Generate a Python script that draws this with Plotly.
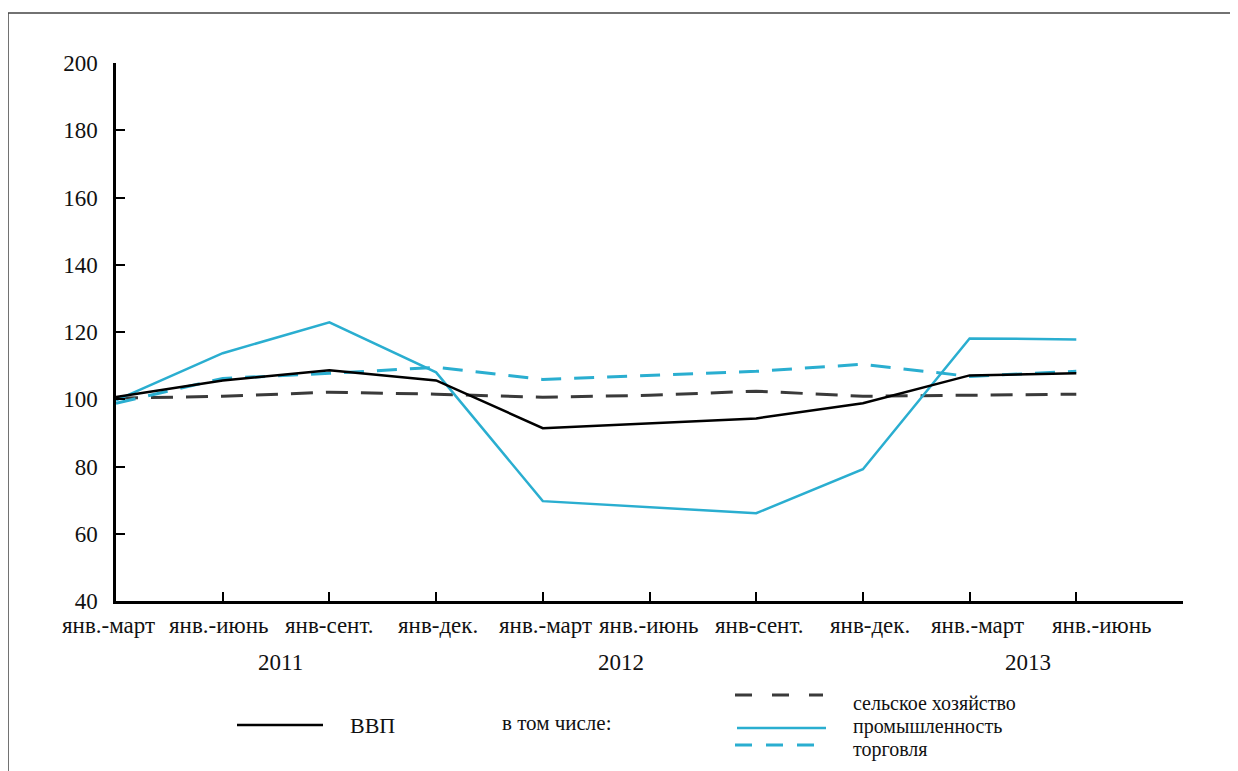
import plotly.graph_objects as go

categories = ["янв.-март", "янв.-июнь", "янв-сент.", "янв-дек.", "янв.-март",
              "янв.-июнь", "янв-сент.", "янв-дек.", "янв.-март", "янв.-июнь"]
years = ["2011", "2012", "2013"]
year_pos = [1.54, 4.73, 8.55]

gdp = [100.7, 105.6, 108.6, 105.6, 91.4, 92.9, 94.3, 98.8, 107.1, 107.7]
agriculture = [100.3, 100.9, 102.1, 101.5, 100.6, 101.2, 102.4, 100.9, 101.2, 101.5]
industry = [99.7, 113.7, 122.9, 108.0, 69.7, 67.9, 66.1, 79.2, 118.1, 117.8]
trade = [98.8, 106.2, 107.7, 109.5, 105.9, 107.1, 108.3, 110.4, 106.8, 108.3]

y_ticks = [40, 60, 80, 100, 120, 140, 160, 180, 200]

CYAN = "#2aaed0"
DARK = "#3a3a3a"
FONT = "Liberation Serif, Times New Roman, DejaVu Serif, serif"

x = list(range(len(categories)))

fig = go.Figure()
fig.add_trace(go.Scatter(x=x, y=agriculture, mode="lines",
                         line=dict(color=DARK, width=3, dash="22px,13px"), name="сельское хозяйство"))
fig.add_trace(go.Scatter(x=x, y=trade, mode="lines",
                         line=dict(color=CYAN, width=3, dash="20px,13px"), name="торговля"))
fig.add_trace(go.Scatter(x=x, y=industry, mode="lines",
                         line=dict(color=CYAN, width=2.5), name="промышленность"))
fig.add_trace(go.Scatter(x=x, y=gdp, mode="lines",
                         line=dict(color="black", width=2.5), name="ВВП"))

# page offset (body margin) compensation
OFF = 8
W, H = 1238, 771
L = 116 - OFF
T = 63 - OFF
PW = 1183 - 116
PH = 601 - 63
R = W - L - PW
B = H - T - PH


def px(xp):
    return (xp - OFF - L) / PW


def py(yp):
    return (OFF + T + PH - yp) / PH


fig.update_layout(
    width=W, height=H,
    margin=dict(l=L, r=R, t=T, b=B),
    paper_bgcolor="white", plot_bgcolor="white",
    showlegend=False,
    font=dict(family=FONT, size=22, color="#111"),
    xaxis=dict(range=[0, 10], showgrid=False, zeroline=False,
               showline=True, linecolor="black", linewidth=2.5,
               tickmode="array", tickvals=x[1:], ticks="inside",
               ticklen=9, tickwidth=2, tickcolor="black",
               showticklabels=False),
    yaxis=dict(range=[40, 200], showgrid=False, zeroline=False,
               showline=True, linecolor="black", linewidth=2.5,
               tickmode="array", tickvals=y_ticks, ticks="inside",
               ticklen=9, tickwidth=2, tickcolor="black",
               ticklabelstandoff=11,
               tickfont=dict(family=FONT, size=23, color="#111")),
)

# category labels under the axis
shifts = [-8, -4, 0, 2, 3, -1, 3, 7, 8, 25]
for i, lab in enumerate(categories):
    fig.add_annotation(x=x[i], y=py(625), xref="x", yref="paper", text=lab,
                       showarrow=False, xshift=shifts[i], yanchor="middle",
                       font=dict(family=FONT, size=23, color="#111"))
for yr, pos in zip(years, year_pos):
    fig.add_annotation(x=pos, y=py(662), xref="x", yref="paper", text=yr,
                       showarrow=False, yanchor="middle",
                       font=dict(family=FONT, size=23, color="#111"))

# outer frame
fig.add_shape(type="rect", xref="paper", yref="paper",
              x0=px(8), x1=px(1260), y0=py(800), y1=py(13),
              line=dict(color="#444", width=1.5), layer="below")

# legend
leg = [
    (237, 323, 725, "black", 2.5, "solid", 348, 725, "ВВП", 22),
    (735, 823, 695, DARK, 3, "17px,20px", 851, 703, "сельское хозяйство", 20),
    (737, 826, 728, CYAN, 2.5, "solid", 851, 726, "промышленность", 20),
    (735, 816, 745, CYAN, 3, "17px,14px", 851, 749, "торговля", 20),
]
for x0, x1, yy, col, w, d, tx, ty, txt, fs in leg:
    fig.add_shape(type="line", xref="paper", yref="paper",
                  x0=px(x0), x1=px(x1), y0=py(yy), y1=py(yy),
                  line=dict(color=col, width=w, dash=d))
    fig.add_annotation(x=px(tx), y=py(ty), xref="paper", yref="paper", text=txt,
                       showarrow=False, xanchor="left", yanchor="middle",
                       font=dict(family=FONT, size=fs, color="#111"))
fig.add_annotation(x=px(500), y=py(723), xref="paper", yref="paper", text="в том числе:",
                   showarrow=False, xanchor="left", yanchor="middle",
                   font=dict(family=FONT, size=21, color="#111"))

fig.write_html("out.html")
